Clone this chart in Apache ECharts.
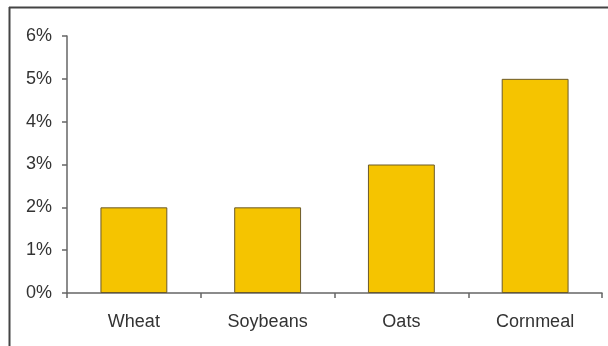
<!DOCTYPE html>
<html><head><meta charset="utf-8">
<script src="https://cdn.jsdelivr.net/npm/echarts@6/dist/echarts.min.js"></script>
<style>html,body{margin:0;padding:0;background:#fff;}#c{width:608px;height:346px;}</style>
</head><body><div id="c"></div>
<script>
var categories = ['Wheat', 'Soybeans', 'Oats', 'Cornmeal'];
var values = [2, 2, 3, 5];
var yTicks = [0, 1, 2, 3, 4, 5, 6];

var chart = echarts.init(document.getElementById('c'), null, {renderer: 'canvas'});
chart.setOption({
  animation: false,
  backgroundColor: '#fff',
  graphic: [
    {type: 'line', shape: {x1: 9, y1: 7.5, x2: 608, y2: 7.5}, style: {stroke: '#444', lineWidth: 2}},
    {type: 'line', shape: {x1: 9.5, y1: 7, x2: 9.5, y2: 346}, style: {stroke: '#444', lineWidth: 2}}
  ],
  grid: {left: 67, right: 6, top: 36, bottom: 53, containLabel: false},
  xAxis: {
    type: 'category',
    data: categories,
    axisLine: {lineStyle: {color: '#666', width: 1.5}},
    axisTick: {show: true, inside: false, length: 5, alignWithLabel: false, lineStyle: {color: '#666', width: 1.5}},
    axisLabel: {color: '#333', fontFamily: 'Liberation Sans, Arial', fontSize: 18, margin: 20}
  },
  yAxis: {
    type: 'value',
    min: yTicks[0],
    max: yTicks[yTicks.length - 1],
    interval: 1,
    splitLine: {show: false},
    axisLine: {show: true, lineStyle: {color: '#666', width: 1.5}},
    axisTick: {show: true, length: 5, lineStyle: {color: '#666', width: 1.5}},
    axisLabel: {color: '#333', fontFamily: 'Liberation Sans, Arial', fontSize: 18, margin: 15, formatter: '{value}%'}
  },
  series: [{
    type: 'bar',
    data: values,
    barWidth: '50%',
    itemStyle: {color: '#F5C400', borderColor: '#6b5a2a', borderWidth: 1}
  }]
});
</script></body></html>
